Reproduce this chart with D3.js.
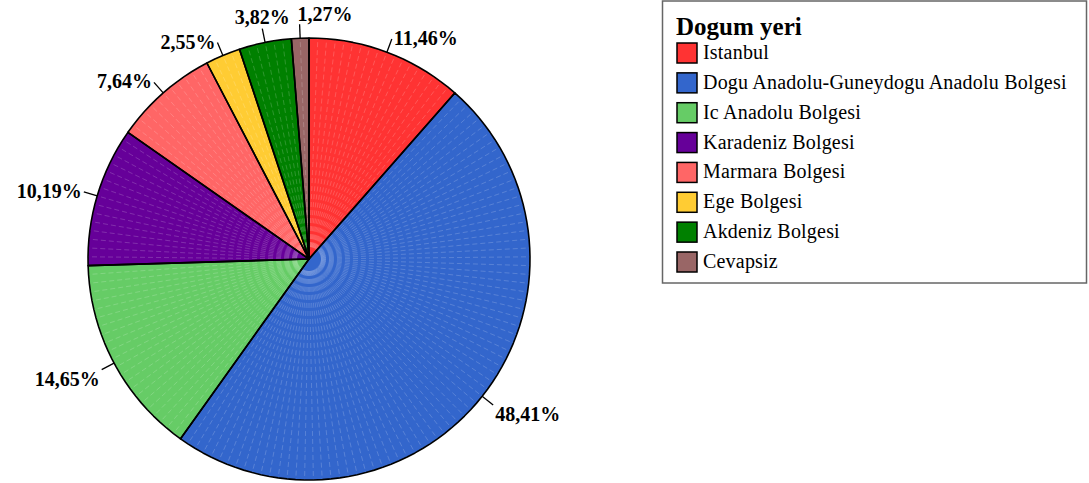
<!DOCTYPE html>
<html>
<head>
<meta charset="utf-8">
<script src="https://cdn.jsdelivr.net/npm/d3@7"></script>
<style>
body { margin: 0; background: #fff; }
svg { display: block; }
</style>
</head>
<body>
<svg id="chart" width="1089" height="483"></svg>
<script>
var categories = ["Istanbul", "Dogu Anadolu-Guneydogu Anadolu Bolgesi", "Ic Anadolu Bolgesi",
    "Karadeniz Bolgesi", "Marmara Bolgesi", "Ege Bolgesi", "Akdeniz Bolgesi", "Cevapsiz"];
var counts = [18, 76, 23, 16, 12, 4, 6, 2];
var colors = ["#ff3333", "#3366cc", "#66cc66", "#660099", "#ff6666", "#ffcc33", "#008000", "#996666"];
var legendTitle = "Dogum yeri";

var cx = 309, cy = 259, R = 221;
var total = d3.sum(counts);

var svg = d3.select("#chart");

function pt(a, r)
{
    return [cx + r * Math.sin(a), cy - r * Math.cos(a)];
}

var arcs = d3.pie().sort(null).value(function (d) { return d; })(counts);
var line = d3.line();

var pieG = svg.append("g");

// each case is one flat segment of the polygon, like in SPSS output
arcs.forEach(function (a, i) {
    var n = counts[i];
    var step = (a.endAngle - a.startAngle) / n;
    var pts = [[cx, cy]];
    for (var k = 0; k <= n; k++) {
        pts.push(pt(a.startAngle + k * step, R));
    }
    pts.push([cx, cy]);

    pieG.append("path")
        .attr("d", line(pts) + "Z")
        .attr("fill", colors[i])
        .attr("stroke", "none");

    for (var k = 1; k < n; k++) {
        pieG.append("path")
            .attr("d", line([pt(a.startAngle + k * step, 12), pt(a.startAngle + k * step, R)]))
            .attr("stroke", "#ffffff")
            .attr("stroke-opacity", 0.3)
            .attr("stroke-width", 0.6)
            .attr("stroke-dasharray", "5,3");
    }
});

// black slice outlines on top
arcs.forEach(function (a, i) {
    var n = counts[i];
    var step = (a.endAngle - a.startAngle) / n;
    var pts = [[cx, cy]];
    for (var k = 0; k <= n; k++) {
        pts.push(pt(a.startAngle + k * step, R));
    }
    pieG.append("path")
        .attr("d", line(pts) + "Z")
        .attr("fill", "none")
        .attr("stroke", "#000")
        .attr("stroke-width", 1.6)
        .attr("stroke-linejoin", "round");
});

// leader lines and percent labels
var labG = svg.append("g");
arcs.forEach(function (a, i) {
    var mid = (a.startAngle + a.endAngle) / 2;
    var p0 = pt(mid, R);
    var p1 = pt(mid, R + 14);
    labG.append("path")
        .attr("d", line([p0, p1]))
        .attr("stroke", "#000")
        .attr("stroke-width", 1.3);

    var s = Math.sin(mid), c = Math.cos(mid);
    var anchor, tx, ty;
    if (Math.abs(s) < 0.1) {
        anchor = "start"; tx = p1[0] - 2; ty = p1[1] - 3;
    } else if (Math.abs(s) < 0.3) {
        anchor = "middle"; tx = p1[0]; ty = p1[1] - 5;
    } else {
        anchor = s > 0 ? "start" : "end";
        tx = p1[0] + (s > 0 ? 2 : -2);
        ty = p1[1] + (c > 0 ? 6 : 16);
    }
    var pct = (counts[i] / total * 100).toFixed(2).replace(".", ",") + "%";
    labG.append("text")
        .attr("x", tx)
        .attr("y", ty)
        .attr("text-anchor", anchor)
        .attr("font-family", "Liberation Serif, Times New Roman, serif")
        .attr("font-weight", "bold")
        .attr("font-size", 20)
        .text(pct);
});

// legend
var lg = svg.append("g");
lg.append("rect")
    .attr("x", 662.5).attr("y", 1)
    .attr("width", 424).attr("height", 282)
    .attr("fill", "#fff")
    .attr("stroke", "#666")
    .attr("stroke-width", 1.5);
lg.append("text")
    .attr("x", 676).attr("y", 35)
    .attr("font-family", "Liberation Serif, Times New Roman, serif")
    .attr("font-weight", "bold")
    .attr("font-size", 25)
    .text(legendTitle);

var rowY = d3.scaleLinear().domain([0, categories.length - 1]).range([53, 262]);
categories.forEach(function (name, i) {
    var y = rowY(i);
    lg.append("rect")
        .attr("x", 677).attr("y", y - 10)
        .attr("width", 20).attr("height", 20)
        .attr("fill", colors[i])
        .attr("stroke", "#000")
        .attr("stroke-width", 1.5);
    lg.append("text")
        .attr("x", 703).attr("y", y + 6)
        .attr("font-family", "Liberation Serif, Times New Roman, serif")
        .attr("font-size", 20)
        .attr("letter-spacing", 0.2)
        .text(name);
});
</script>
</body>
</html>
